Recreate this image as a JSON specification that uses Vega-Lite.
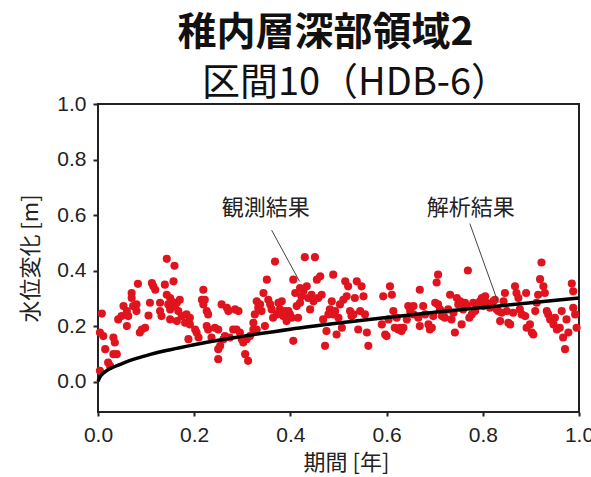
{
  "$schema": "https://vega.github.io/schema/vega-lite/v6.json",
  "width": 481,
  "height": 308,
  "autosize": "none",
  "padding": {"left": 98, "top": 104, "right": 12, "bottom": 65},
  "background": "white",
  "title": {
    "text": "稚内層深部領域2",
    "font": "Noto Sans CJK JP",
    "fontSize": 39,
    "fontWeight": "bold",
    "color": "#111111",
    "anchor": "middle",
    "frame": "group",
    "offset": 11,
    "dx": -13
  },
  "resolve": {"axis": {"x": "independent"}},
  "config": {
    "view": {"stroke": "#222222", "strokeWidth": 2},
    "axis": {
      "domain": false,
      "grid": false,
      "labelFlush": false,
      "labelFont": "Liberation Sans",
      "labelFontSize": 21,
      "labelColor": "#222222",
      "tickColor": "#222222",
      "tickWidth": 2,
      "titleFont": "Noto Sans CJK JP",
      "titleFontSize": 22,
      "titleFontWeight": "normal",
      "titleColor": "#222222"
    }
  },
  "datasets": {
    "obs": [
      {"x":0.008,"y":0.246},{"x":0.004,"y":0.178},{"x":0.011,"y":0.165},{"x":0.015,"y":0.118},{"x":0.004,"y":0.040},
      {"x":0.021,"y":0.070},{"x":0.025,"y":0.058},{"x":0.032,"y":0.160},{"x":0.035,"y":0.142},{"x":0.032,"y":0.100},
      {"x":0.039,"y":0.100},{"x":0.042,"y":0.225},{"x":0.049,"y":0.237},{"x":0.053,"y":0.273},{"x":0.060,"y":0.255},
      {"x":0.060,"y":0.201},{"x":0.063,"y":0.237},{"x":0.070,"y":0.320},{"x":0.070,"y":0.302},{"x":0.073,"y":0.273},
      {"x":0.080,"y":0.279},{"x":0.083,"y":0.353},{"x":0.080,"y":0.255},{"x":0.087,"y":0.178},{"x":0.091,"y":0.189},
      {"x":0.098,"y":0.195},{"x":0.105,"y":0.239},{"x":0.108,"y":0.285},{"x":0.112,"y":0.356},{"x":0.115,"y":0.344},
      {"x":0.119,"y":0.332},{"x":0.129,"y":0.285},{"x":0.129,"y":0.255},{"x":0.132,"y":0.237},{"x":0.139,"y":0.350},
      {"x":0.143,"y":0.443},{"x":0.146,"y":0.279},{"x":0.143,"y":0.314},{"x":0.150,"y":0.302},{"x":0.157,"y":0.362},
      {"x":0.159,"y":0.418},{"x":0.153,"y":0.290},{"x":0.150,"y":0.261},{"x":0.150,"y":0.225},{"x":0.160,"y":0.273},
      {"x":0.164,"y":0.285},{"x":0.167,"y":0.255},{"x":0.164,"y":0.219},{"x":0.170,"y":0.296},{"x":0.174,"y":0.237},
      {"x":0.181,"y":0.213},{"x":0.184,"y":0.243},{"x":0.191,"y":0.231},{"x":0.188,"y":0.154},{"x":0.191,"y":0.207},
      {"x":0.202,"y":0.189},{"x":0.205,"y":0.178},{"x":0.209,"y":0.160},{"x":0.219,"y":0.332},{"x":0.216,"y":0.296},
      {"x":0.219,"y":0.279},{"x":0.222,"y":0.296},{"x":0.226,"y":0.255},{"x":0.229,"y":0.243},{"x":0.226,"y":0.201},
      {"x":0.229,"y":0.189},{"x":0.236,"y":0.160},{"x":0.243,"y":0.195},{"x":0.250,"y":0.189},{"x":0.250,"y":0.118},
      {"x":0.250,"y":0.082},{"x":0.254,"y":0.130},{"x":0.257,"y":0.279},{"x":0.261,"y":0.154},{"x":0.264,"y":0.165},
      {"x":0.268,"y":0.267},{"x":0.271,"y":0.255},{"x":0.274,"y":0.160},{"x":0.281,"y":0.189},{"x":0.285,"y":0.261},
      {"x":0.288,"y":0.189},{"x":0.292,"y":0.255},{"x":0.295,"y":0.178},{"x":0.299,"y":0.154},{"x":0.302,"y":0.142},
      {"x":0.306,"y":0.100},{"x":0.312,"y":0.076},{"x":0.309,"y":0.154},{"x":0.316,"y":0.165},{"x":0.323,"y":0.189},
      {"x":0.323,"y":0.213},{"x":0.326,"y":0.243},{"x":0.330,"y":0.189},{"x":0.333,"y":0.267},{"x":0.330,"y":0.290},
      {"x":0.337,"y":0.279},{"x":0.340,"y":0.255},{"x":0.344,"y":0.320},{"x":0.347,"y":0.201},{"x":0.351,"y":0.368},
      {"x":0.354,"y":0.296},{"x":0.358,"y":0.279},{"x":0.361,"y":0.261},{"x":0.364,"y":0.231},{"x":0.368,"y":0.433},
      {"x":0.372,"y":0.243},{"x":0.375,"y":0.285},{"x":0.378,"y":0.261},{"x":0.382,"y":0.290},{"x":0.385,"y":0.237},
      {"x":0.389,"y":0.255},{"x":0.392,"y":0.219},{"x":0.396,"y":0.255},{"x":0.399,"y":0.243},{"x":0.403,"y":0.231},
      {"x":0.406,"y":0.368},{"x":0.406,"y":0.148},{"x":0.410,"y":0.320},{"x":0.413,"y":0.273},{"x":0.416,"y":0.231},
      {"x":0.420,"y":0.338},{"x":0.420,"y":0.285},{"x":0.423,"y":0.308},{"x":0.427,"y":0.326},{"x":0.430,"y":0.449},
      {"x":0.434,"y":0.344},{"x":0.437,"y":0.302},{"x":0.441,"y":0.261},{"x":0.444,"y":0.314},{"x":0.451,"y":0.449},
      {"x":0.448,"y":0.290},{"x":0.455,"y":0.368},{"x":0.458,"y":0.302},{"x":0.462,"y":0.380},{"x":0.465,"y":0.314},
      {"x":0.468,"y":0.225},{"x":0.472,"y":0.130},{"x":0.475,"y":0.183},{"x":0.479,"y":0.243},{"x":0.482,"y":0.261},
      {"x":0.486,"y":0.290},{"x":0.489,"y":0.386},{"x":0.489,"y":0.243},{"x":0.493,"y":0.255},{"x":0.496,"y":0.171},
      {"x":0.500,"y":0.231},{"x":0.503,"y":0.279},{"x":0.507,"y":0.195},{"x":0.510,"y":0.296},{"x":0.514,"y":0.362},
      {"x":0.517,"y":0.308},{"x":0.520,"y":0.344},{"x":0.524,"y":0.255},{"x":0.527,"y":0.237},{"x":0.531,"y":0.243},
      {"x":0.534,"y":0.302},{"x":0.538,"y":0.362},{"x":0.541,"y":0.189},{"x":0.545,"y":0.255},{"x":0.548,"y":0.344},
      {"x":0.552,"y":0.308},{"x":0.555,"y":0.243},{"x":0.559,"y":0.178},{"x":0.562,"y":0.130},{"x":0.590,"y":0.207},
      {"x":0.593,"y":0.308},{"x":0.597,"y":0.171},{"x":0.600,"y":0.165},{"x":0.604,"y":0.225},{"x":0.607,"y":0.344},
      {"x":0.611,"y":0.314},{"x":0.614,"y":0.255},{"x":0.617,"y":0.195},{"x":0.621,"y":0.231},{"x":0.624,"y":0.189},
      {"x":0.628,"y":0.195},{"x":0.631,"y":0.183},{"x":0.635,"y":0.195},{"x":0.642,"y":0.225},{"x":0.645,"y":0.273},
      {"x":0.649,"y":0.255},{"x":0.656,"y":0.273},{"x":0.666,"y":0.231},{"x":0.669,"y":0.332},{"x":0.656,"y":0.243},
      {"x":0.669,"y":0.201},{"x":0.676,"y":0.273},{"x":0.680,"y":0.243},{"x":0.687,"y":0.207},{"x":0.690,"y":0.189},
      {"x":0.694,"y":0.195},{"x":0.697,"y":0.237},{"x":0.701,"y":0.285},{"x":0.704,"y":0.358},{"x":0.707,"y":0.386},
      {"x":0.707,"y":0.279},{"x":0.711,"y":0.261},{"x":0.715,"y":0.237},{"x":0.718,"y":0.243},{"x":0.721,"y":0.231},
      {"x":0.728,"y":0.261},{"x":0.732,"y":0.314},{"x":0.735,"y":0.225},{"x":0.739,"y":0.249},{"x":0.742,"y":0.178},
      {"x":0.746,"y":0.302},{"x":0.749,"y":0.279},{"x":0.753,"y":0.290},{"x":0.756,"y":0.207},{"x":0.759,"y":0.261},
      {"x":0.763,"y":0.285},{"x":0.767,"y":0.273},{"x":0.769,"y":0.401},{"x":0.772,"y":0.231},{"x":0.777,"y":0.243},
      {"x":0.780,"y":0.285},{"x":0.784,"y":0.255},{"x":0.787,"y":0.273},{"x":0.794,"y":0.290},{"x":0.798,"y":0.302},
      {"x":0.801,"y":0.273},{"x":0.805,"y":0.308},{"x":0.808,"y":0.285},{"x":0.815,"y":0.267},{"x":0.822,"y":0.290},
      {"x":0.825,"y":0.296},{"x":0.829,"y":0.261},{"x":0.832,"y":0.255},{"x":0.836,"y":0.219},{"x":0.839,"y":0.249},
      {"x":0.843,"y":0.290},{"x":0.846,"y":0.320},{"x":0.850,"y":0.255},{"x":0.853,"y":0.213},{"x":0.857,"y":0.207},
      {"x":0.863,"y":0.249},{"x":0.867,"y":0.344},{"x":0.870,"y":0.320},{"x":0.874,"y":0.302},{"x":0.877,"y":0.261},
      {"x":0.881,"y":0.243},{"x":0.888,"y":0.237},{"x":0.890,"y":0.320},{"x":0.891,"y":0.195},{"x":0.898,"y":0.207},
      {"x":0.902,"y":0.178},{"x":0.905,"y":0.171},{"x":0.909,"y":0.255},{"x":0.912,"y":0.285},{"x":0.915,"y":0.314},
      {"x":0.919,"y":0.370},{"x":0.922,"y":0.430},{"x":0.926,"y":0.344},{"x":0.929,"y":0.320},{"x":0.933,"y":0.255},
      {"x":0.936,"y":0.243},{"x":0.940,"y":0.225},{"x":0.947,"y":0.207},{"x":0.950,"y":0.231},{"x":0.954,"y":0.189},
      {"x":0.960,"y":0.195},{"x":0.964,"y":0.255},{"x":0.967,"y":0.160},{"x":0.971,"y":0.118},{"x":0.974,"y":0.225},
      {"x":0.978,"y":0.178},{"x":0.985,"y":0.354},{"x":0.988,"y":0.326},{"x":0.988,"y":0.267},{"x":0.992,"y":0.243},
      {"x":0.995,"y":0.195}
    ],
    "fit": [
      {"x":0.0,"y":0.003},{"x":0.005,"y":0.02},{"x":0.01,"y":0.03},{"x":0.02,"y":0.043},{"x":0.03,"y":0.052},
      {"x":0.05,"y":0.066},{"x":0.075,"y":0.082},{"x":0.1,"y":0.095},{"x":0.15,"y":0.116},{"x":0.2,"y":0.134},
      {"x":0.25,"y":0.15},{"x":0.3,"y":0.164},{"x":0.4,"y":0.19},{"x":0.5,"y":0.212},{"x":0.6,"y":0.232},
      {"x":0.7,"y":0.251},{"x":0.8,"y":0.268},{"x":0.9,"y":0.285},{"x":1.0,"y":0.302}
    ],
    "notes": [
      {"label":"観測結果","tx":0.349,"ty":0.625,"x1":0.361,"y1":0.546,"x2":0.419,"y2":0.362},
      {"label":"解析結果","tx":0.775,"ty":0.625,"x1":0.773,"y1":0.570,"x2":0.832,"y2":0.285}
    ]
  },
  "layer": [
    {
      "mark": {"type": "rule", "color": "#a6a6a6", "strokeWidth": 3},
      "encoding": {"y": {"datum": 0, "type": "quantitative"}}
    },
    {
      "data": {"name": "obs"},
      "mark": {"type": "circle", "size": 66, "color": "#e0141e", "opacity": 1},
      "encoding": {
        "x": {
          "field": "x", "type": "quantitative",
          "scale": {"domain": [0, 1], "nice": false, "zero": false},
          "axis": {"title": "期間 [年]", "orient": "bottom", "values": [0, 0.2, 0.4, 0.6, 0.8, 1.0], "format": ".1f", "tickSize": 4, "labelPadding": 8, "titlePadding": 7, "titleX": 248}
        },
        "y": {
          "field": "y", "type": "quantitative",
          "scale": {"domain": [-0.108, 1.0], "nice": false, "zero": false},
          "axis": {"title": "水位変化 [m]", "values": [0, 0.2, 0.4, 0.6, 0.8, 1.0], "format": ".1f", "tickSize": 5, "labelPadding": 7, "titlePadding": 14}
        }
      }
    },
    {
      "data": {"name": "fit"},
      "mark": {"type": "line", "color": "#000000", "strokeWidth": 3.5, "interpolate": "monotone"},
      "encoding": {
        "x": {
          "field": "x", "type": "quantitative",
          "axis": {"orient": "top", "title": "区間10（HDB-6）", "labels": false, "ticks": false, "domain": false, "titleFontSize": 38, "titleColor": "#111111", "titlePadding": 2, "titleX": 257}
        },
        "y": {"field": "y", "type": "quantitative"}
      }
    },
    {
      "data": {"name": "notes"},
      "mark": {"type": "rule", "color": "#444444", "strokeWidth": 1},
      "encoding": {
        "x": {"field": "x1", "type": "quantitative", "axis": null},
        "y": {"field": "y1", "type": "quantitative"},
        "x2": {"field": "x2"},
        "y2": {"field": "y2"}
      }
    },
    {
      "data": {"name": "notes"},
      "mark": {"type": "text", "font": "Noto Sans CJK JP", "fontSize": 22, "color": "#222222", "align": "center", "baseline": "middle"},
      "encoding": {
        "x": {"field": "tx", "type": "quantitative", "axis": null},
        "y": {"field": "ty", "type": "quantitative"},
        "text": {"field": "label"}
      }
    }
  ]
}
